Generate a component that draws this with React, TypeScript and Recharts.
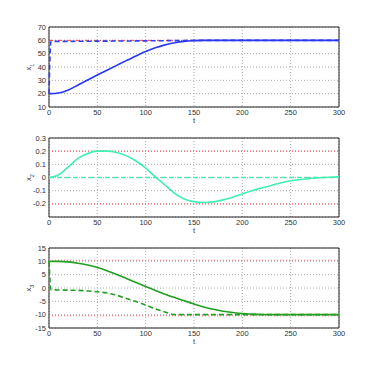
import React from 'react';
import { LineChart, Line, XAxis, YAxis, CartesianGrid, ReferenceLine, ReferenceArea } from 'recharts';

// time samples (t) shared by all three panels
const times = [0, 2, 10, 20, 30, 40, 50, 60, 70, 80, 90, 100, 110, 120, 125, 130, 140, 150, 160, 170, 180, 190, 200, 210, 220, 230, 240, 250, 260, 270, 280, 290, 300];

const x1 = [20, 20, 20.5, 22.8, 26.5, 30.3, 34, 37.6, 41.2, 44.8, 48.3, 51.6, 54.4, 56.6, 57.5, 58.2, 59.2, 59.7, 60, 60, 60, 60, 60, 60, 60, 60, 60, 60, 60, 60, 60, 60, 60];
const x1Ref = [20, 59.2, 59.2, 59.2, 59.3, 59.3, 59.4, 59.4, 59.5, 59.5, 59.6, 59.6, 59.7, 59.7, 59.8, 59.8, 59.9, 60, 60, 60, 60, 60, 60, 60, 60, 60, 60, 60, 60, 60, 60, 60, 60];

const x2 = [0, 0.002, 0.02, 0.08, 0.145, 0.183, 0.2, 0.2, 0.19, 0.166, 0.125, 0.072, 0.005, -0.057, -0.09, -0.12, -0.163, -0.183, -0.19, -0.185, -0.17, -0.15, -0.125, -0.1, -0.08, -0.06, -0.04, -0.025, -0.015, -0.008, -0.002, 0.002, 0.005];

const x3 = [10, 10, 10, 9.8, 9.3, 8.6, 7.7, 6.5, 5.1, 3.6, 2.1, 0.6, -0.9, -2.3, -3, -3.6, -4.8, -6.0, -7.1, -8.0, -8.7, -9.2, -9.6, -9.8, -9.95, -10, -10, -10, -10, -10, -10, -10, -10];
const x3Ref = [10, -0.6, -0.75, -0.8, -0.9, -1.1, -1.4, -1.9, -2.7, -3.9, -5.1, -6.4, -7.8, -9.0, -9.6, -10, -10, -10, -10, -10, -10, -10, -10, -10, -10, -10, -10, -10, -10, -10, -10, -10, -10];

const xTicks = [0, 50, 100, 150, 200, 250, 300];
const x1Ticks = [10, 20, 30, 40, 50, 60, 70];
const x2Ticks = [-0.2, -0.1, 0, 0.1, 0.2, 0.3];
const x3Ticks = [-15, -10, -5, 0, 5, 10, 15];

const x1Target = 60;
const x2Bounds = [-0.2, 0.2];
const x3Bounds = [-10.4, 10.4];

const rows = times.map((t, i) => ({ t, x1: x1[i], x1Ref: x1Ref[i], x2: x2[i], x3: x3[i], x3Ref: x3Ref[i] }));

const font = { fontSize: 7.5, fill: '#333', fontFamily: 'Liberation Sans, Arial, sans-serif' };

const YLabel = (sub: string) => (props: any) => {
  const { x, y, height } = props.viewBox;
  const cx = x + 12;
  const cy = y + height / 2;
  return (
    <text transform={`translate(${cx},${cy}) rotate(-90)`} textAnchor="middle" style={font} fill="#333">
      x<tspan fontSize={5.5} dy={2.5}>{sub}</tspan>
    </text>
  );
};

const XLabel = (props: any) => {
  const { x, y, width } = props.viewBox;
  return (
    <text x={x + width / 2} y={y + 16} textAnchor="middle" style={font} fill="#333">
      t
    </text>
  );
};

interface PanelProps {
  top: number;
  domain: [number, number];
  plotH: number;
  ticks: number[];
  sub: string;
  children: React.ReactNode;
}

const Panel = ({ top, domain, plotH, ticks, sub, children }: PanelProps) => (
  <div style={{ position: 'absolute', left: 0, top }}>
    <LineChart width={374} height={27 + plotH + 22} data={rows} margin={{ top: 27, right: 35, left: 19, bottom: 0 }}>
      <CartesianGrid strokeDasharray="1 2" stroke="#aaa" />
      <XAxis
        dataKey="t"
        type="number"
        domain={[0, 300]}
        ticks={xTicks}
        interval={0}
        tick={font}
        tickLine={false}
        axisLine={false}
        tickSize={2}
        tickMargin={1}
        height={22}
        label={{ content: XLabel }}
      />
      <YAxis
        type="number"
        domain={domain}
        ticks={ticks}
        interval={0}
        tick={font}
        tickLine={false}
        axisLine={false}
        width={30}
        tickSize={2}
        tickMargin={1}
        label={{ content: YLabel(sub) }}
      />
      {children}
      <ReferenceArea x1={0} x2={300} y1={domain[0]} y2={domain[1]} fill="none" stroke="#222" strokeWidth={1} />
    </LineChart>
  </div>
);

export default function App() {
  return (
    <div style={{ position: 'absolute', left: 0, top: 0, width: 374, height: 369, background: '#fff', overflow: 'hidden' }}>
      <Panel top={0} plotH={80} domain={[10, 70]} ticks={x1Ticks} sub="1">
        <ReferenceLine y={x1Target} stroke="#ff4040" strokeDasharray="4 2 1 2" strokeWidth={1} />
        <Line type="monotone" dataKey="x1Ref" stroke="#3040f0" strokeWidth={1.6} strokeDasharray="5 3" dot={false} isAnimationActive={false} />
        <Line type="monotone" dataKey="x1" stroke="#2838f0" strokeWidth={1.6} dot={false} isAnimationActive={false} />
      </Panel>
      <Panel top={111} plotH={79} domain={[-0.3, 0.3]} ticks={x2Ticks} sub="2">
        {x2Bounds.map((b) => (
          <ReferenceLine key={b} y={b} stroke="#ff6060" strokeDasharray="1 2" strokeWidth={1.2} />
        ))}
        <ReferenceLine y={0} stroke="#40f0b0" strokeDasharray="5 3" strokeWidth={1.4} />
        <Line type="monotone" dataKey="x2" stroke="#40f0b0" strokeWidth={1.6} dot={false} isAnimationActive={false} />
      </Panel>
      <Panel top={221} plotH={80} domain={[-15, 15]} ticks={x3Ticks} sub="3">
        {x3Bounds.map((b) => (
          <ReferenceLine key={b} y={b} stroke="#ff6060" strokeDasharray="1 2" strokeWidth={1.2} />
        ))}
        <Line type="monotone" dataKey="x3Ref" stroke="#20a020" strokeWidth={1.6} strokeDasharray="5 3" dot={false} isAnimationActive={false} />
        <Line type="monotone" dataKey="x3" stroke="#20a020" strokeWidth={1.6} dot={false} isAnimationActive={false} />
      </Panel>
    </div>
  );
}
